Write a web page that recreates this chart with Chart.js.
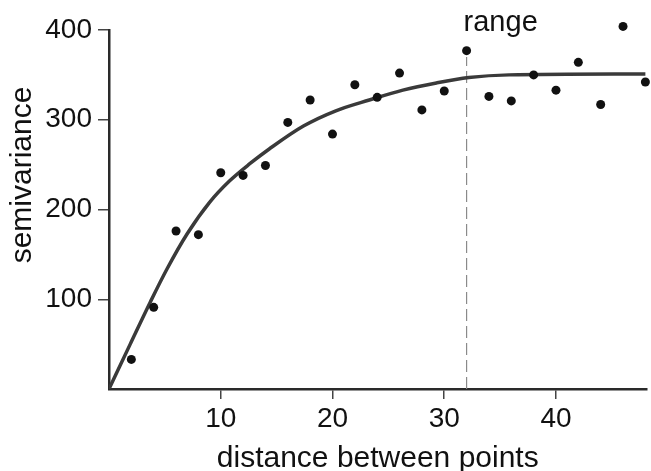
<!DOCTYPE html>
<html>
<head>
<meta charset="utf-8">
<script src="https://cdn.jsdelivr.net/npm/chart.js@4.4.1/dist/chart.umd.min.js"></script>
<style>
  html, body { margin: 0; padding: 0; background: #fff; }
  #wrap { width: 651px; height: 471px; }
</style>
</head>
<body>
<div id="wrap"><canvas id="variogram" width="651" height="471"></canvas></div>
<script>
// empirical semivariance, one dot per lag
const lagDistance = [2, 4, 6, 8, 10, 12, 14, 16, 18, 20, 22, 24, 26, 28, 30, 32, 34, 36, 38, 40, 42, 44, 46, 48];
const semivariance = [33, 91, 176, 172, 241, 238, 249, 297, 322, 284, 339, 325, 352, 311, 332, 377, 326, 321, 350, 333, 364, 317, 404, 342];

// fitted model curve
const modelDistance = [0, 1.9, 3.7, 5.2, 7, 9, 10.8, 12.6, 14.4, 17.4, 20.3, 23.3, 26.3, 29.3, 32.2, 35.8, 48];
const modelValue = [0, 50, 97, 134, 173, 208, 232, 251, 268, 293, 310, 322, 333, 341, 347, 350, 351];

// range marker
const rangeDistance = 32;
const rangeLineTop = 370;
const rangeLabel = "range";

const xTicks = [10, 20, 30, 40];
const yTicks = [100, 200, 300, 400];
const xTitle = "distance between points";
const yTitle = "semivariance";

const fontStack = "'Liberation Sans', Arial, Helvetica, sans-serif";
const inkColor = "#111";

const toPoints = (xs, ys) => xs.map((x, i) => ({ x, y: ys[i] }));

const textPlugin = {
  id: "variogramText",
  afterDraw(chart) {
    const { ctx, scales } = chart;
    ctx.save();
    ctx.fillStyle = inkColor;
    ctx.font = `29px ${fontStack}`;
    ctx.textAlign = "left";
    ctx.textBaseline = "alphabetic";
    ctx.fillText(rangeLabel, scales.x.getPixelForValue(rangeDistance) - 3, 31);

    ctx.font = `30px ${fontStack}`;
    ctx.translate(23, 175);
    ctx.rotate(-Math.PI / 2);
    ctx.textAlign = "center";
    ctx.textBaseline = "middle";
    ctx.fillText(yTitle, 0, 0);
    ctx.restore();
  },
};

const tickGrid = {
  drawOnChartArea: false,
  drawTicks: true,
  color: "#444",
  lineWidth: 1.5,
};

new Chart(document.querySelector("#variogram"), {
  type: "scatter",
  data: {
    datasets: [
      {
        label: "model",
        data: toPoints(modelDistance, modelValue),
        showLine: true,
        borderColor: "#3a3a3a",
        borderWidth: 3.5,
        pointRadius: 0,
        cubicInterpolationMode: "monotone",
        order: 2,
      },
      {
        label: "range",
        data: [
          { x: rangeDistance, y: 0 },
          { x: rangeDistance, y: rangeLineTop },
        ],
        showLine: true,
        borderColor: "#8a8a8a",
        borderWidth: 1.2,
        borderDash: [12, 5],
        pointRadius: 0,
        order: 3,
      },
      {
        label: "semivariance",
        data: toPoints(lagDistance, semivariance),
        backgroundColor: "#111",
        borderColor: "#111",
        pointRadius: 4.5,
        borderWidth: 0,
        clip: false,
        order: 1,
      },
    ],
  },
  options: {
    responsive: false,
    animation: false,
    layout: { padding: { top: 30, right: 2, bottom: 0, left: 0 } },
    plugins: {
      legend: { display: false },
      tooltip: { enabled: false },
    },
    scales: {
      x: {
        type: "linear",
        min: 0,
        max: 48.1,
        afterBuildTicks: (scale) => {
          scale.ticks = xTicks.map((value) => ({ value }));
        },
        afterFit: (scale) => {
          scale.height = 82;
        },
        grid: { ...tickGrid, tickLength: 10 },
        border: { display: true, color: "#2a2a2a", width: 2.5 },
        ticks: {
          color: inkColor,
          padding: 3,
          maxRotation: 0,
          font: { family: fontStack, size: 28 },
        },
        title: {
          display: true,
          text: xTitle,
          color: inkColor,
          padding: 0,
          font: { family: fontStack, size: 30, lineHeight: 0.85 },
        },
      },
      y: {
        type: "linear",
        min: 0,
        max: 400,
        afterBuildTicks: (scale) => {
          scale.ticks = yTicks.map((value) => ({ value }));
        },
        afterFit: (scale) => {
          scale.width = 109;
        },
        grid: { ...tickGrid, tickLength: 11 },
        border: { display: true, color: "#2a2a2a", width: 2.5 },
        ticks: {
          color: inkColor,
          padding: 6,
          font: { family: fontStack, size: 28 },
        },
      },
    },
  },
  plugins: [textPlugin],
});
</script>
</body>
</html>
